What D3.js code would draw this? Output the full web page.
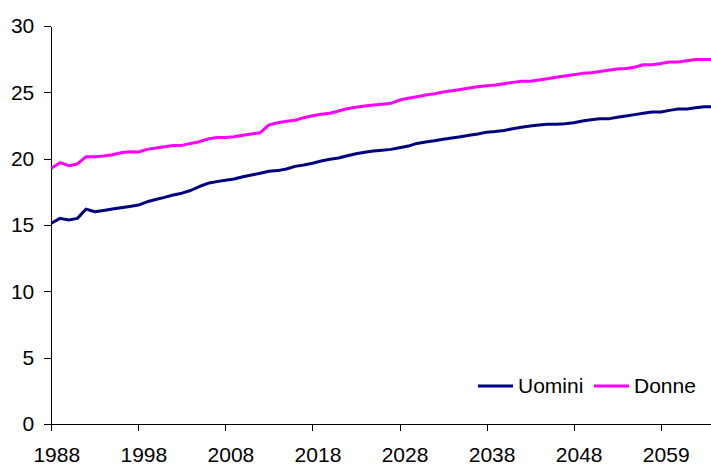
<!DOCTYPE html>
<html>
<head>
<meta charset="utf-8">
<script src="https://cdn.jsdelivr.net/npm/d3@7"></script>
<style>
  body { margin: 0; background: #fff; }
  svg text { font-family: "Liberation Sans", Arial, sans-serif; fill: #000; }
  .axis path, .axis line { stroke: #000; shape-rendering: crispEdges; }
</style>
</head>
<body>
<div id="chart"></div>
<script>
// years on the category axis (one year is skipped after 2048, as in the original)
var years = d3.range(1988, 2049).concat(d3.range(2050, 2066)).map(String);

// values
var uomini = [15.13, 15.5, 15.38, 15.5, 16.2, 16.0, 16.1, 16.2, 16.3, 16.4,
  16.5, 16.75, 16.92, 17.08, 17.26, 17.4, 17.6, 17.9, 18.14, 18.27,
  18.37, 18.47, 18.64, 18.77, 18.9, 19.05, 19.1, 19.22, 19.42, 19.52,
  19.65, 19.82, 19.95, 20.05, 20.22, 20.37, 20.48, 20.58, 20.64, 20.7,
  20.83, 20.95, 21.15, 21.26, 21.35, 21.46, 21.56, 21.66, 21.76, 21.86,
  22.0, 22.05, 22.13, 22.26, 22.36, 22.46, 22.54, 22.59, 22.59, 22.64,
  22.71, 22.84, 22.94, 23.0, 23.0, 23.12, 23.22, 23.32, 23.42, 23.52,
  23.52, 23.64, 23.74, 23.74, 23.84, 23.92, 23.92];

var donne = [19.27, 19.7, 19.47, 19.6, 20.15, 20.15, 20.2, 20.3, 20.45, 20.52,
  20.5, 20.7, 20.8, 20.9, 21.0, 21.0, 21.15, 21.28, 21.48, 21.6,
  21.6, 21.66, 21.76, 21.86, 21.96, 22.55, 22.71, 22.82, 22.9, 23.09,
  23.24, 23.34, 23.42, 23.59, 23.77, 23.87, 23.97, 24.05, 24.1, 24.17,
  24.42, 24.55, 24.67, 24.8, 24.9, 25.02, 25.12, 25.22, 25.33, 25.42,
  25.5, 25.55, 25.65, 25.75, 25.83, 25.83, 25.93, 26.03, 26.13, 26.23,
  26.33, 26.43, 26.48, 26.57, 26.66, 26.76, 26.79, 26.89, 27.08, 27.08,
  27.18, 27.29, 27.29, 27.38, 27.48, 27.48, 27.48];

var yTicks = [0, 5, 10, 15, 20, 25, 30];
var xTicks = years.filter(function(d, i) { return i % 10 === 0; });

var seriesNames = ["Uomini", "Donne"];
var seriesColors = ["#000080", "#ff00ff"];

(function() {
var width = 711, height = 464;
var plotLeft = 51.3, plotBottom = 424, plotTop = 26, step = 8.706;

var svg = d3.select("#chart").append("svg")
    .attr("width", width)
    .attr("height", height);

// scales
var x = d3.scalePoint()
    .domain(years)
    .range([plotLeft, plotLeft + step * (years.length - 1)]);
var y = d3.scaleLinear()
    .domain([0, 30])
    .range([plotBottom, plotTop]);

// y axis
var yAxis = svg.append("g")
    .attr("class", "axis")
    .attr("transform", "translate(" + plotLeft + ",0)")
    .call(d3.axisLeft(y).tickValues(yTicks).tickSize(7).tickSizeOuter(0).tickPadding(10));
yAxis.selectAll("text").style("font-size", "21px");

// x axis
var xAxis = svg.append("g")
    .attr("class", "axis")
    .attr("transform", "translate(0," + plotBottom + ")")
    .call(d3.axisBottom(x).tickValues(xTicks).tickSize(7).tickSizeOuter(0).tickPadding(16));
xAxis.select(".domain").attr("d", "M" + plotLeft + ",0.5H" + width);
xAxis.selectAll("text").style("font-size", "21px").attr("x", 5);

// lines
var line = d3.line()
    .x(function(d, i) { return x(years[i]); })
    .y(function(d) { return y(d); });

[uomini, donne].forEach(function(s, k) {
  svg.append("path")
      .datum(s)
      .attr("fill", "none")
      .attr("stroke", seriesColors[k])
      .attr("stroke-width", 3)
      .attr("stroke-linejoin", "round")
      .attr("d", line);
});

// legend
var legendX = [478, 594];
seriesNames.forEach(function(name, k) {
  var g = svg.append("g").attr("transform", "translate(" + legendX[k] + ",386)");
  g.append("line")
      .attr("x1", 0).attr("x2", 35)
      .attr("stroke", seriesColors[k])
      .attr("stroke-width", 3);
  g.append("text")
      .attr("x", 40)
      .attr("y", 7)
      .style("font-size", "21px")
      .text(name);
});
})();
</script>
</body>
</html>
